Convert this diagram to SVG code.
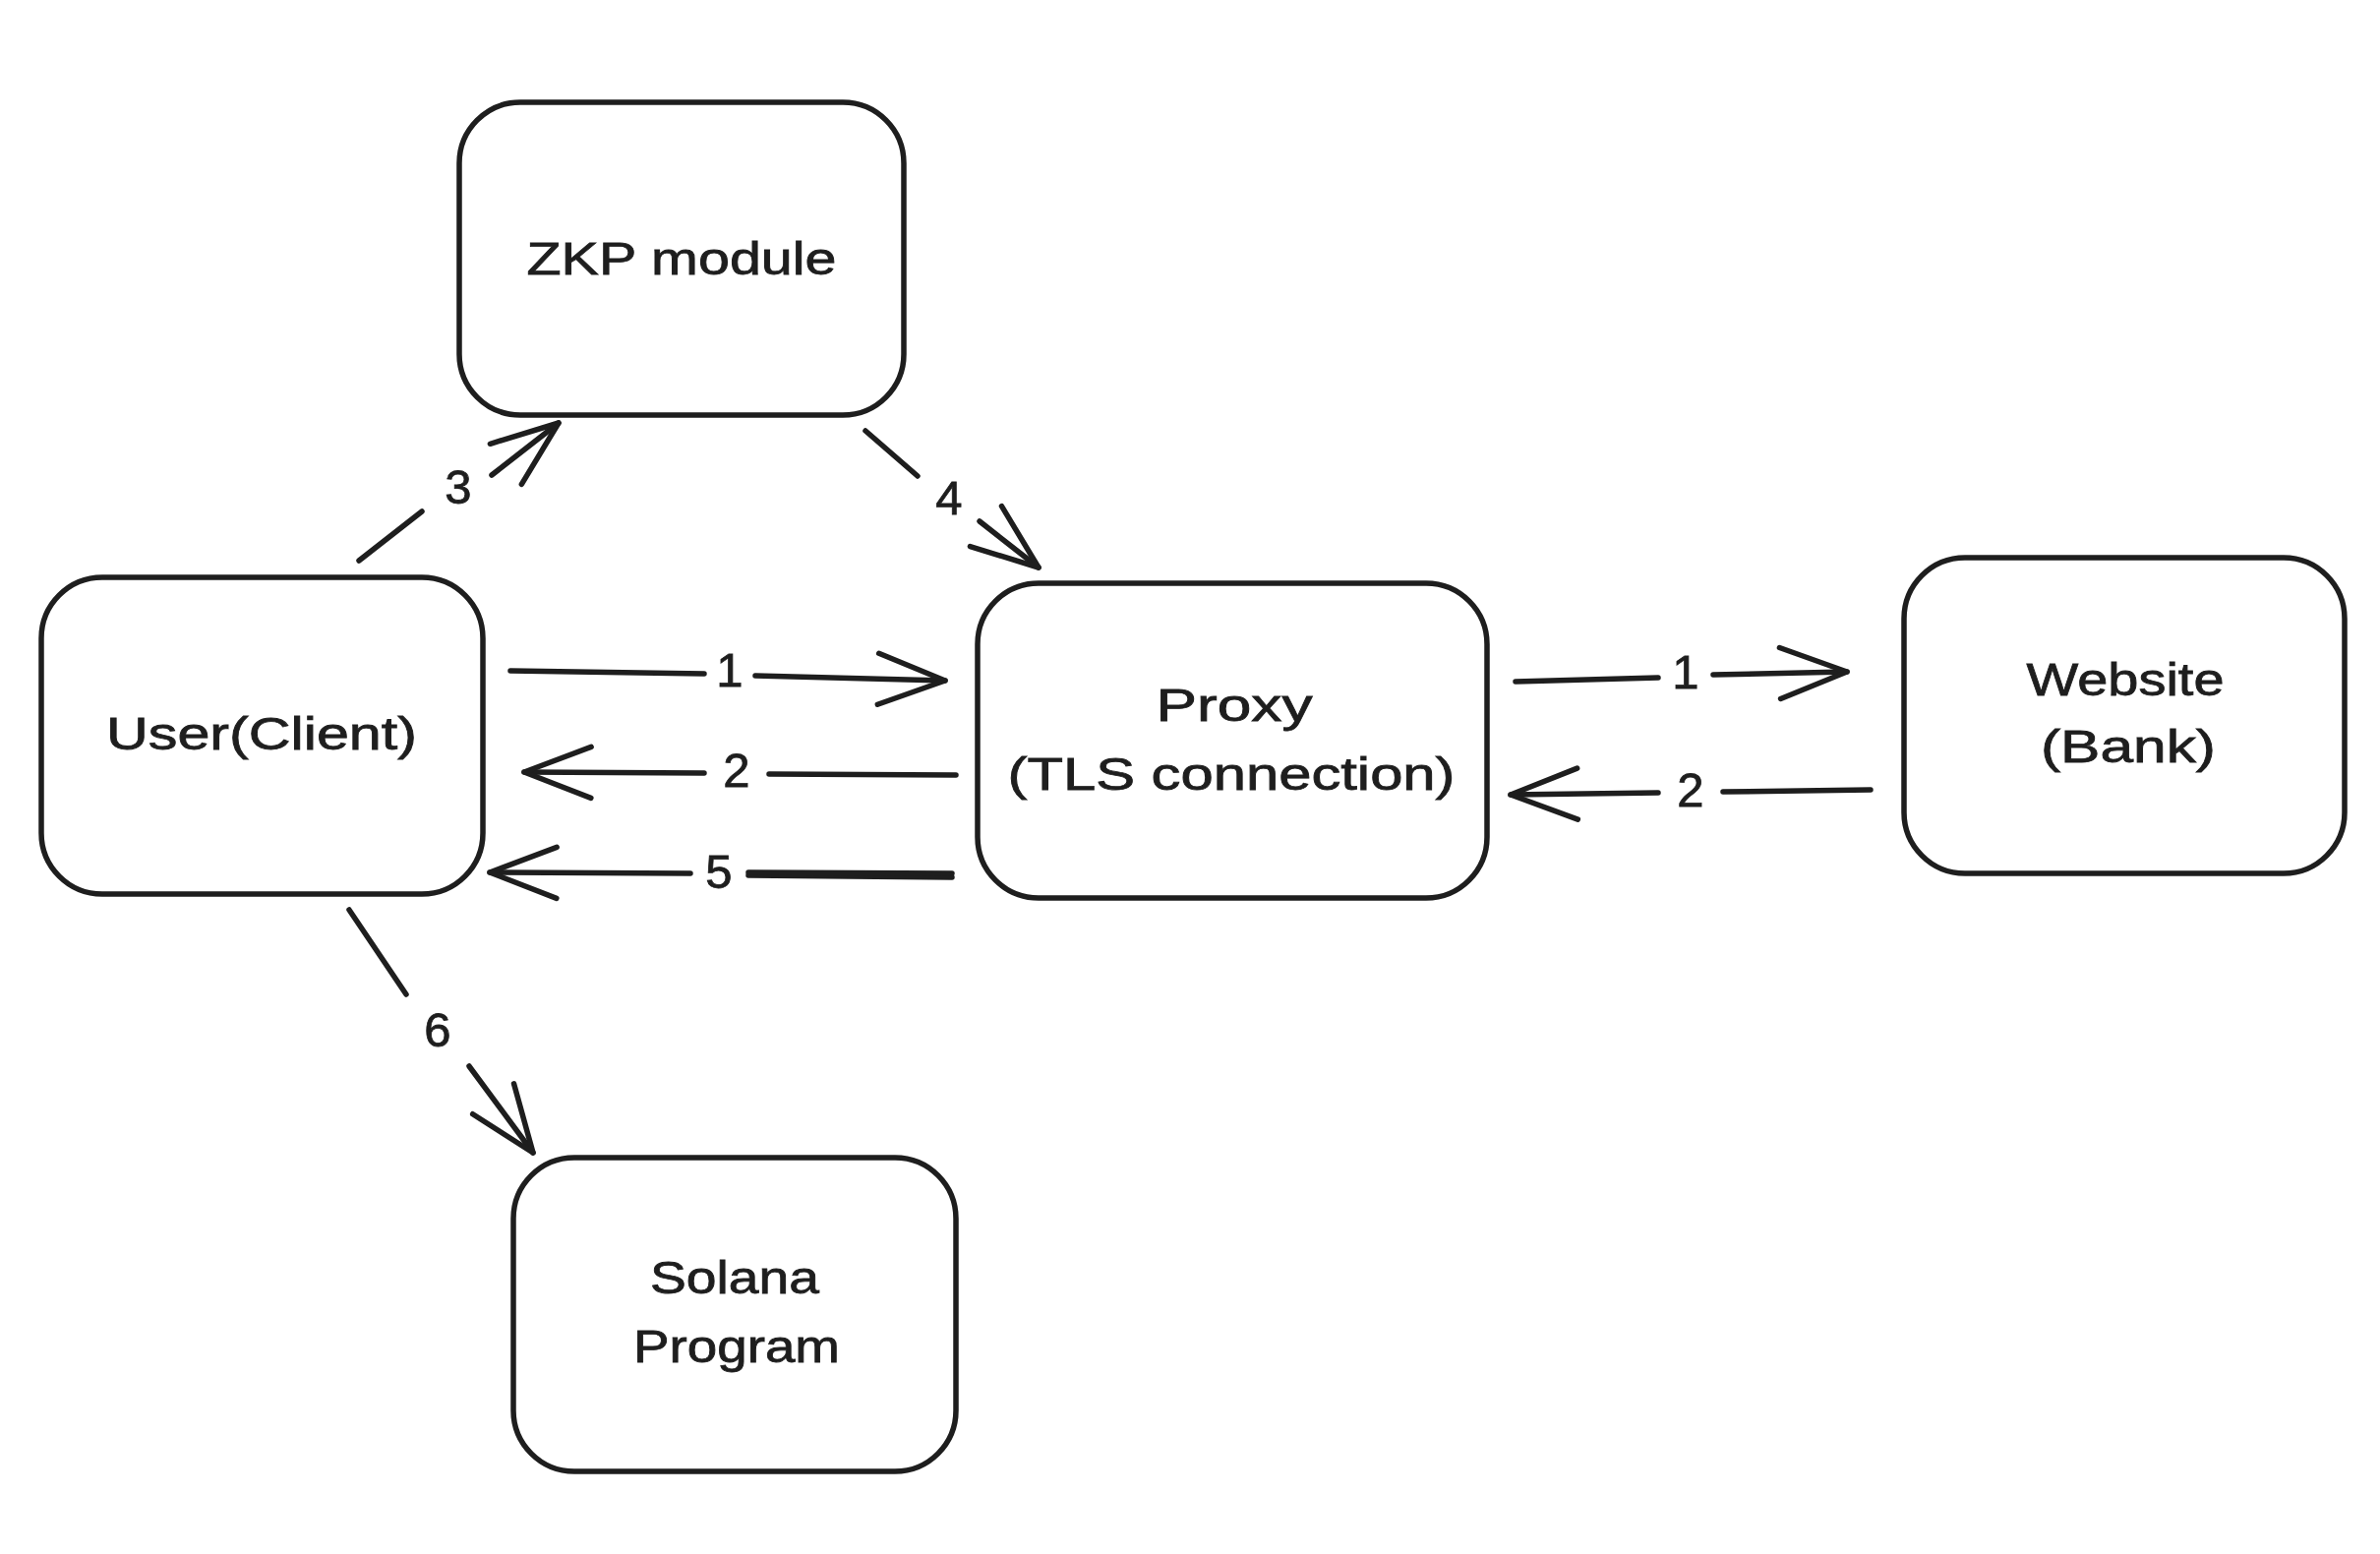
<svg xmlns="http://www.w3.org/2000/svg" width="2420" height="1580" viewBox="0 0 2420 1580">
<style>
.box{fill:#ffffff;stroke:#1e1e1e;stroke-width:5.5;stroke-linejoin:round}
.lbl{font-family:"Liberation Sans",Arial,sans-serif;font-size:47px;fill:#1e1e1e;stroke:#1e1e1e;stroke-width:0.8;text-anchor:middle}
.num{font-family:"Liberation Sans",Arial,sans-serif;font-size:49px;fill:#1e1e1e;stroke:#1e1e1e;stroke-width:0.8;text-anchor:middle}
.ln{fill:none;stroke:#1e1e1e;stroke-width:5.5;stroke-linecap:round}
</style>
<defs>
<marker id="ah" markerUnits="userSpaceOnUse" viewBox="-80 -40 90 80" refX="0" refY="0" markerWidth="90" markerHeight="80" orient="auto" overflow="visible">
<path d="M-68,-26 L0,0 L-68,26" fill="none" stroke="#1e1e1e" stroke-width="5.5" stroke-linecap="round" stroke-linejoin="round"/>
</marker>
</defs>
<rect width="2420" height="1580" fill="#ffffff"/>
<g id="zkp">
<rect class="box" x="467" y="104" width="452" height="318" rx="62"/>
<text class="lbl" x="693" y="279" textLength="315" lengthAdjust="spacingAndGlyphs">ZKP module</text>
</g>
<g id="user">
<rect class="box" x="42" y="587" width="449" height="322" rx="62"/>
<text class="lbl" x="266" y="762" textLength="316" lengthAdjust="spacingAndGlyphs">User(Client)</text>
</g>
<g id="proxy">
<rect class="box" x="994" y="593" width="518" height="320" rx="62"/>
<text class="lbl" x="1255" y="733" textLength="159" lengthAdjust="spacingAndGlyphs">Proxy</text>
<text class="lbl" x="1252" y="803" textLength="455" lengthAdjust="spacingAndGlyphs">(TLS connection)</text>
</g>
<g id="website">
<rect class="box" x="1936" y="567" width="448" height="321" rx="62"/>
<text class="lbl" x="2161" y="707" textLength="201" lengthAdjust="spacingAndGlyphs">Website</text>
<text class="lbl" x="2164" y="775" textLength="178" lengthAdjust="spacingAndGlyphs">(Bank)</text>
</g>
<g id="solana">
<rect class="box" x="522" y="1177" width="450" height="319" rx="62"/>
<text class="lbl" x="747" y="1315" textLength="172" lengthAdjust="spacingAndGlyphs">Solana</text>
<text class="lbl" x="749" y="1385" textLength="210" lengthAdjust="spacingAndGlyphs">Program</text>
</g>
<g id="connectors">
<path class="ln" d="M365,570 L429,520"/>
<path class="ln" d="M500,483 L568,430" marker-end="url(#ah)"/>
<text class="num" x="466" y="512">3</text>
<path class="ln" d="M880,438 L933,484"/>
<path class="ln" d="M996,530 L1056,577" marker-end="url(#ah)"/>
<text class="num" x="965" y="523">4</text>
<path class="ln" d="M519,682 L716,685"/>
<path class="ln" d="M768,687 L961,692" marker-end="url(#ah)"/>
<text class="num" x="742" y="698">1</text>
<path class="ln" d="M972,788 L782,787"/>
<path class="ln" d="M716,786 L533,785" marker-end="url(#ah)"/>
<text class="num" x="749" y="800">2</text>
<path class="ln" d="M968,892 L761,890"/>
<path class="ln" d="M968,888 L761,887"/>
<path class="ln" d="M702,888 L498,887" marker-end="url(#ah)"/>
<text class="num" x="731" y="903">5</text>
<path class="ln" d="M355,925 L413,1011"/>
<path class="ln" d="M477,1084 L542,1172" marker-end="url(#ah)"/>
<text class="num" x="445" y="1064">6</text>
<path class="ln" d="M1541,693 L1686,689"/>
<path class="ln" d="M1742,686 L1878,683" marker-end="url(#ah)"/>
<text class="num" x="1714" y="700">1</text>
<path class="ln" d="M1902,803 L1752,805"/>
<path class="ln" d="M1686,806 L1536,808" marker-end="url(#ah)"/>
<text class="num" x="1719" y="820">2</text>
</g>
</svg>
